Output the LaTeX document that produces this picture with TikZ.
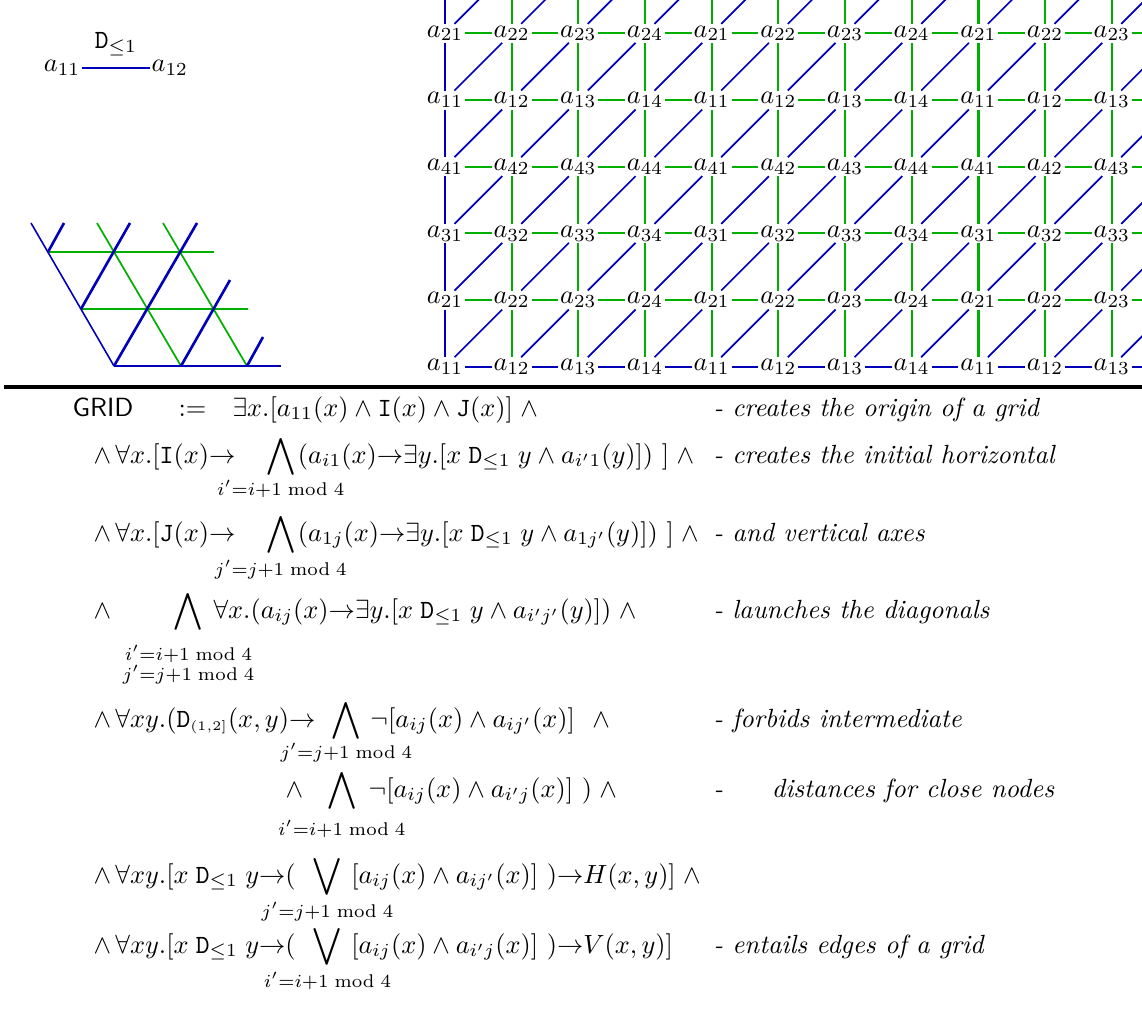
\documentclass[tikz,border=0pt]{standalone}
\usepackage{amsmath}
\usepackage{mathtools}
\usetikzlibrary{positioning}

\definecolor{gridblue}{RGB}{0,0,185}
\definecolor{gridgreen}{RGB}{0,175,0}

% limits under a big operator, set apart from the line
\newcommand{\opsub}[2][0pt]{\mathclap{\smash{\raisebox{#1}{$\scriptstyle #2$}}}}

\begin{document}
\begin{tikzpicture}[
    x=0.38pt, y=-0.38pt,
    gridnode/.style={inner sep=0.5pt},
    blueedge/.style={draw=gridblue, line width=0.65pt},
    greenedge/.style={draw=gridgreen, line width=0.85pt},
    formula/.style={anchor=base west, inner sep=0pt},
    remark/.style={anchor=base west, inner sep=0pt, font=\itshape}
]
\useasboundingbox (0,0) rectangle (1142,1018);

% one D-edge
\node[gridnode] (a11) at (62,68) {$a_{11}$};
\node[gridnode] (a12) [right=25.8pt of a11] {$a_{12}$};
\draw[blueedge, line width=0.8pt] (a11) -- (a12) node[midway, above, yshift=1pt] {$\mathtt{D}_{\le 1}$};

% sheared lattice
\draw[draw=gridgreen, line width=0.65pt] (48,252) -- (214,252) (81,309) -- (248,309)
    (97,223) -- (181,366) (163,223) -- (247,366);
\draw[draw=gridblue, line width=0.6pt] (31,223) -- (114,366);
\draw[draw=gridblue, line width=0.7pt] (114,366) -- (281,366);
\draw[draw=gridblue, line width=1pt] (114,366) -- (197,223) (181,366) -- (230,280)
    (247,366) -- (263,337) (81,309) -- (130,223) (48,252) -- (64,223);

% the grid
\begin{scope}
\clip (420,0) rectangle (1142,384);
\foreach \r in {0,...,5} {
    \foreach \c in {0,...,10} {
        \pgfmathtruncatemacro{\i}{mod(\r,4)+1}
        \pgfmathtruncatemacro{\j}{mod(\c,4)+1}
        \node[gridnode] (n-\r-\c) at ({445+66.67*\c},{366.7-66.67*\r}) {$a_{\i\j}$};
    }
}
% points outside the frame
\foreach \c in {0,...,11}
    \coordinate (n-6-\c) at ({445+66.67*\c},{366.7-66.67*6});
\foreach \r in {0,...,5}
    \coordinate (n-\r-11) at ({445+66.67*11},{366.7-66.67*\r});
\foreach \r in {0,...,5} {
    \foreach \c in {0,...,10} {
        \pgfmathtruncatemacro{\rr}{\r+1}
        \pgfmathtruncatemacro{\cc}{\c+1}
        \ifnum\r=0 \def\hedge{blueedge}\else\def\hedge{greenedge}\fi
        \ifnum\c=0 \def\vedge{blueedge}\else\def\vedge{greenedge}\fi
        \draw[style=\hedge] (n-\r-\c) -- (n-\r-\cc);
        \draw[style=\vedge] (n-\r-\c) -- (n-\rr-\c);
        \draw[blueedge] (n-\r-\c) -- (n-\rr-\cc);
    }
}
\end{scope}

\draw[line width=1.5pt] (4,387) -- (1142,387);

% the formula
\node[formula] (grid) at (72,416) {\textsf{GRID}};
\node[formula] (def) at (178,416) {$:=$};
\node[formula] (l1) at (232,416) {$\exists x.[a_{11}(x)\wedge\mathtt{I}(x)\wedge\mathtt{J}(x)]\;\wedge$};
\node[formula] (l2) at (93,463) {$\displaystyle\wedge\,\forall x.[\mathtt{I}(x){\rightarrow}\hspace{10pt}\bigwedge\limits_{\opsub[-1pt]{i'=i+1\bmod 4}}\hspace{1pt}(a_{i1}(x){\rightarrow}\exists y.[x\mathrel{\mathtt{D}_{\le 1}}y\wedge a_{i'1}(y)])\ ]\;\wedge$};
\node[formula] (l3) at (93,541) {$\displaystyle\wedge\,\forall x.[\mathtt{J}(x){\rightarrow}\hspace{10pt}\bigwedge\limits_{\opsub[-1.5pt]{j'=j+1\bmod 4}}\hspace{1pt}(a_{1j}(x){\rightarrow}\exists y.[x\mathrel{\mathtt{D}_{\le 1}}y\wedge a_{1j'}(y)])\ ]\;\wedge$};
\node[formula] (l4) at (93,618) {$\displaystyle\wedge\hspace{22.2pt}\bigwedge\limits_{\opsub[-8pt]{\begin{subarray}{c}i'=i+1\bmod 4\\ j'=j+1\bmod 4\end{subarray}}}\hspace{2.3pt}\forall x.(a_{ij}(x){\rightarrow}\exists y.[x\mathrel{\mathtt{D}_{\le 1}}y\wedge a_{i'j'}(y)])\;\wedge$};
\node[formula] (l5) at (93,727) {$\displaystyle\wedge\,\forall xy.(\mathtt{D}_{\scriptscriptstyle(1,2]}(x,y){\rightarrow}\hspace{4.5pt}\bigwedge\limits_{\opsub[-0.5pt]{j'=j+1\bmod 4}}\hspace{2pt}\neg[a_{ij}(x)\wedge a_{ij'}(x)]\ \ \wedge$};
\node[formula] (l6) at (285,797) {$\displaystyle\wedge\hspace{7.5pt}\bigwedge\limits_{\opsub[-3pt]{i'=i+1\bmod 4}}\hspace{3pt}\neg[a_{ij}(x)\wedge a_{i'j}(x)]\ )\;\wedge$};
\node[formula] (l7) at (93,883) {$\displaystyle\wedge\,\forall xy.[x\mathrel{\mathtt{D}_{\le 1}}y{\rightarrow}(\hspace{6.5pt}\bigvee\limits_{\opsub[-1.5pt]{j'=j+1\bmod 4}}\hspace{3.5pt}[a_{ij}(x)\wedge a_{ij'}(x)]\ ){\rightarrow}H(x,y)]\;\wedge$};
\node[formula] (l8) at (93,953) {$\displaystyle\wedge\,\forall xy.[x\mathrel{\mathtt{D}_{\le 1}}y{\rightarrow}(\hspace{6.5pt}\bigvee\limits_{\opsub[-1.5pt]{i'=i+1\bmod 4}}\hspace{3.5pt}[a_{ij}(x)\wedge a_{i'j}(x)]\ ){\rightarrow}V(x,y)]$};

% comments
\node[remark] (c1) at (713,416) {- creates the origin of a grid};
\node[remark] (c2) at (713,463) {- creates the initial horizontal};
\node[remark] (c3) at (713,541) {- and vertical axes};
\node[remark] (c4) at (713,618) {- launches the diagonals};
\node[remark] (c5) at (713,727) {- forbids intermediate};
\node[remark] (c6) at (713,797) {- \quad\enspace distances for close nodes};
\node[remark] (c8) at (713,953) {- entails edges of a grid};
\end{tikzpicture}
\end{document}
